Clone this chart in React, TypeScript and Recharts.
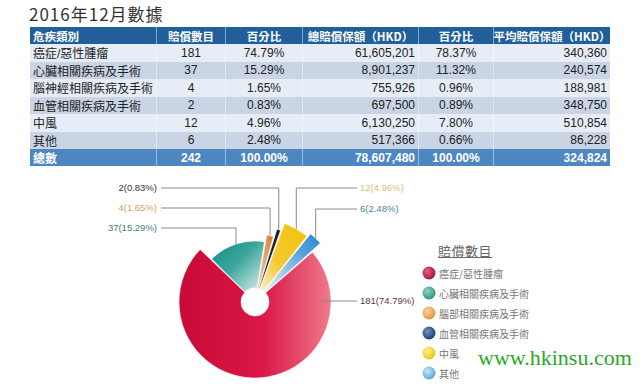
import React from 'react';
import { PieChart, Pie, Cell } from 'recharts';

const title = '2016年12月數據';
const headers = ['危疾類別', '賠償數目', '百分比', '總賠償保額（HKD）', '百分比', '平均賠償保額（HKD）'];
const categories = ['癌症/惡性腫瘤', '心臟相關疾病及手術', '腦神經相關疾病及手術', '血管相關疾病及手術', '中風', '其他'];
const legendNames = ['癌症/惡性腫瘤', '心臟相關疾病及手術', '腦部相關疾病及手術', '血管相關疾病及手術', '中風', '其他'];
const claimCounts = [181, 37, 4, 2, 12, 6];
const countPct = ['74.79%', '15.29%', '1.65%', '0.83%', '4.96%', '2.48%'];
const claimAmounts = ['61,605,201', '8,901,237', '755,926', '697,500', '6,130,250', '517,366'];
const amountPct = ['78.37%', '11.32%', '0.96%', '0.89%', '7.80%', '0.66%'];
const avgAmounts = ['340,360', '240,574', '188,981', '348,750', '510,854', '86,228'];
const totalRow = ['總數', '242', '100.00%', '78,607,480', '100.00%', '324,824'];
const legendTitle = '賠償數目';
const watermark = 'www.hkinsu.com';

const pieData = legendNames.map((name, i) => ({ name, value: claimCounts[i] }));

// style constants
const colWidths = [126, 69, 77, 116, 75, 117];
const colAlign: ('left' | 'center' | 'right')[] = ['left', 'center', 'center', 'right', 'center', 'right'];
const sliceOuter = [76, 61, 68, 76, 84, 88];
const sliceFill = ['url(#gRed)', 'url(#gTeal)', 'url(#gOrange)', '#1c1f29', 'url(#gYellow)', 'url(#gBlue)'];
const labelColor = ['#5a3a44', '#3f7d7a', '#d9a06a', '#333333', '#d8c27a', '#4f7f9c'];
const labelLeft = [false, true, true, true, false, false];
const labelY = [301, 228, 208, 188, 188, 209];
const bulletBase = ['#a30f36', '#2a8c7c', '#e0903a', '#1f3a66', '#e2c21a', '#55a5d0'];
const bulletHi = ['#e8607a', '#8fd6c6', '#fbd19a', '#6f8fc0', '#fff08a', '#c6e6f6'];

const FONT = "'Liberation Sans', 'Noto Sans CJK TC', sans-serif";
const CJK = "'Noto Sans CJK TC', 'Liberation Sans', sans-serif";

const makeLabel = (k: number) => (p: any) => {
  if (p.index !== k) return null;
  const RAD = Math.PI / 180;
  const { cx, cy, midAngle, outerRadius } = p;
  const ly = labelY[k];
  const left = labelLeft[k];
  const lineEnd = left ? 161 : 357;
  const textX = left ? 157 : 360;
  let points: string;
  if (k === 0) {
    const ax = cx + outerRadius * 0.86;
    points = `${ax},${ly} ${lineEnd},${ly}`;
  } else {
    const ax = cx + outerRadius * Math.cos(-midAngle * RAD);
    const ay = cy + outerRadius * Math.sin(-midAngle * RAD);
    points = `${ax},${ay} ${ax},${ly} ${lineEnd},${ly}`;
  }
  return (
    <g>
      <polyline points={points} fill="none" stroke="#8a8a8a" strokeWidth={1} />
      <text x={textX} y={ly} dy="0.35em" textAnchor={left ? 'end' : 'start'} fill={labelColor[k]} fontSize={9.5} fontFamily={FONT}>
        {`${claimCounts[k]}(${countPct[k]})`}
      </text>
    </g>
  );
};

const Row = ({ cells, bg, color, bold, height, header }: any) => (
  <div style={{ display: 'flex', height, background: bg }}>
    {cells.map((c: string, j: number) => {
      const align = header ? (j === 0 ? 'left' : 'center') : colAlign[j];
      return (
        <div
          key={j}
          style={{
            width: colWidths[j],
            boxSizing: 'border-box',
            display: 'flex',
            alignItems: 'center',
            justifyContent: align === 'left' ? 'flex-start' : align === 'right' ? 'flex-end' : 'center',
            padding: '0 3px',
            color,
            fontWeight: bold ? 700 : 400,
            fontSize: header ? 11.5 : 12,
            whiteSpace: 'nowrap',
            overflow: 'hidden',
            borderLeft: j > 0 ? '1px solid rgba(255,255,255,0.45)' : 'none',
            fontFamily: header ? CJK : FONT,
          }}
        >
          {c}
        </div>
      );
    })}
  </div>
);

export default function App() {
  return (
    <div style={{ position: 'absolute', left: 0, top: 0, width: 640, height: 387, background: '#ffffff', overflow: 'hidden', fontFamily: FONT }}>
      <div style={{ position: 'absolute', left: 29, top: 3, fontSize: 17, lineHeight: '22px', color: '#333', fontFamily: CJK, letterSpacing: 1 }}>
        {title}
      </div>
      <div style={{ position: 'absolute', left: 30, top: 27, width: 580 }}>
        <Row cells={headers} bg="#215f9a" color="#ffffff" bold height={17} header />
        {categories.map((c, i) => (
          <Row
            key={c}
            cells={[c, String(claimCounts[i]), countPct[i], claimAmounts[i], amountPct[i], avgAmounts[i]]}
            bg={i % 2 === 0 ? '#e6edf6' : '#c9d4e5'}
            color="#222"
            height={17.5}
          />
        ))}
        <Row cells={totalRow} bg="#4e86c2" color="#ffffff" bold height={17} />
      </div>

      <div style={{ position: 'absolute', left: 0, top: 0 }}>
        <PieChart width={640} height={387}>
          <defs>
            <linearGradient id="gRed" x1="0" y1="0" x2="1" y2="0">
              <stop offset="0" stopColor="#c80a36" />
              <stop offset="0.55" stopColor="#da1746" />
              <stop offset="1" stopColor="#ee7a8a" />
            </linearGradient>
            <linearGradient id="gTeal" x1="0" y1="0" x2="1" y2="1">
              <stop offset="0" stopColor="#168f86" />
              <stop offset="0.45" stopColor="#3aa59b" />
              <stop offset="1" stopColor="#e6f3f1" />
            </linearGradient>
            <linearGradient id="gOrange" x1="1" y1="0" x2="0" y2="1">
              <stop offset="0" stopColor="#d47f36" />
              <stop offset="1" stopColor="#f3d2b0" />
            </linearGradient>
            <linearGradient id="gYellow" x1="1" y1="0" x2="0" y2="1">
              <stop offset="0" stopColor="#f4c10c" />
              <stop offset="0.6" stopColor="#f4c930" />
              <stop offset="1" stopColor="#fbefc8" />
            </linearGradient>
            <linearGradient id="gBlue" x1="1" y1="0" x2="0" y2="1">
              <stop offset="0" stopColor="#2a88d0" />
              <stop offset="0.35" stopColor="#5ba4da" />
              <stop offset="1" stopColor="#f0f6fb" />
            </linearGradient>
          </defs>
          {sliceOuter.map((r, k) => (
            <Pie
              key={k}
              data={pieData}
              dataKey="value"
              nameKey="name"
              cx={250}
              cy={297}
              innerRadius={14}
              outerRadius={r}
              startAngle={41}
              endAngle={-319}
              paddingAngle={1}
              isAnimationActive={false}
              labelLine={false}
              label={makeLabel(k)}
            >
              {pieData.map((d, i) => (
                <Cell
                  key={d.name}
                  fill={i === k ? sliceFill[i] : 'none'}
                  stroke={i === k ? '#ffffff' : 'none'}
                  strokeWidth={i === k ? 0.6 : 0}
                />
              ))}
            </Pie>
          ))}
        </PieChart>
      </div>

      <div style={{ position: 'absolute', left: 438, top: 243, fontSize: 13, lineHeight: '16px', color: '#666', fontFamily: CJK, textDecoration: 'underline', letterSpacing: 0.5 }}>
        {legendTitle}
      </div>
      {legendNames.map((n, i) => (
        <div key={n} style={{ position: 'absolute', left: 422, top: 266 + i * 20, height: 14, display: 'flex', alignItems: 'center' }}>
          <svg width={14} height={14} style={{ display: 'block' }}>
            <defs>
              <radialGradient id={`lb${i}`} cx="0.38" cy="0.35" r="0.7">
                <stop offset="0" stopColor={bulletHi[i]} />
                <stop offset="1" stopColor={bulletBase[i]} />
              </radialGradient>
            </defs>
            <circle cx={7} cy={7} r={6.5} fill={`url(#lb${i})`} />
          </svg>
          <span style={{ marginLeft: 3, fontSize: 10, color: '#777', fontFamily: CJK, whiteSpace: 'nowrap' }}>{n}</span>
        </div>
      ))}
      <div style={{ position: 'absolute', left: 478, top: 345, fontSize: 22, lineHeight: '26px', color: '#2aa82a', fontFamily: "'Liberation Serif', 'DejaVu Serif', serif" }}>
        {watermark}
      </div>
    </div>
  );
}
